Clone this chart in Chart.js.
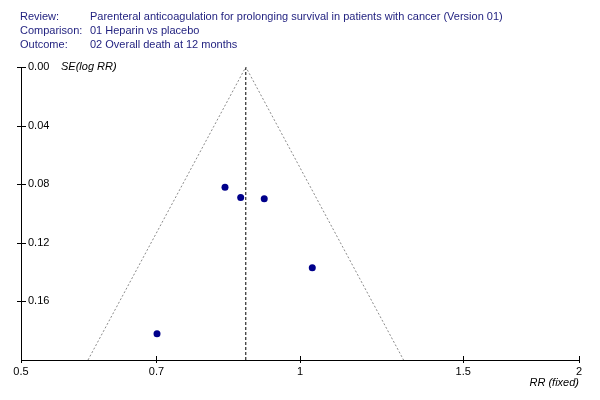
<!DOCTYPE html>
<html>
<head>
<meta charset="utf-8">
<script src="https://cdn.jsdelivr.net/npm/chart.js@4"></script>
<style>
  html, body { margin: 0; padding: 0; background: #fff; }
  #wrap { position: relative; width: 600px; height: 400px; }
  #chart { position: absolute; left: 0; top: 0; }
  .hdr { position: absolute; left: 20px; font: 11px "Liberation Sans", Arial, sans-serif; color: #1e1e7e; white-space: nowrap; }
  .hdr span { position: absolute; left: 70px; }
</style>
</head>
<body>
<div id="wrap">
  <canvas id="chart" width="600" height="400"></canvas>
  <div class="hdr" style="top:10px">Review:<span>Parenteral anticoagulation for prolonging survival in patients with cancer (Version 01)</span></div>
  <div class="hdr" style="top:24px">Comparison:<span>01 Heparin vs placebo</span></div>
  <div class="hdr" style="top:38px">Outcome:<span>02 Overall death at 12 months</span></div>
</div>
<script>
// study estimates
const studyRR = [0.830, 0.863, 0.915, 1.031, 0.701];
const studySE = [0.082, 0.089, 0.090, 0.137, 0.182];
const pooledRR = 0.874;
const seMax = 0.2;
const xTicks = [0.5, 0.7, 1, 1.5, 2];
const yTicks = [0, 0.04, 0.08, 0.12, 0.16];

const points = studyRR.map((rr, i) => ({ x: rr, y: studySE[i] }));
const funnel = [
    { x: pooledRR * Math.exp(-1.96 * seMax), y: seMax },
    { x: pooledRR, y: 0 },
    { x: pooledRR * Math.exp(1.96 * seMax), y: seMax }
];
const pooledLine = [{ x: pooledRR, y: 0 }, { x: pooledRR, y: seMax }];

const FONT = 'Liberation Sans, Arial, sans-serif';

// cross-shaped tick marks and the axis captions
const decorations = {
    id: 'decorations',
    afterDraw(chart) {
        const ctx = chart.ctx;
        const xs = chart.scales.x, ys = chart.scales.y;
        const area = chart.chartArea;
        ctx.save();
        ctx.strokeStyle = '#000';
        ctx.lineWidth = 1;
        ctx.beginPath();
        xTicks.forEach(v => {
            const px = Math.round(xs.getPixelForValue(v)) + 0.5;
            ctx.moveTo(px, area.bottom - 4);
            ctx.lineTo(px, area.bottom + 3);
        });
        yTicks.forEach(v => {
            const py = Math.round(ys.getPixelForValue(v)) + 0.5;
            ctx.moveTo(area.left - 4, py);
            ctx.lineTo(area.left + 5, py);
        });
        ctx.stroke();
        ctx.fillStyle = '#000';
        ctx.font = 'italic 11px ' + FONT;
        ctx.textBaseline = 'middle';
        ctx.textAlign = 'left';
        ctx.fillText('SE(log RR)', 61, ys.getPixelForValue(0));
        ctx.textAlign = 'right';
        ctx.fillText('RR (fixed)', area.right, 383);
        ctx.restore();
    }
};

new Chart(document.getElementById('chart').getContext('2d'), {
    type: 'scatter',
    data: {
        datasets: [
            {
                type: 'line', data: funnel, borderColor: '#8a8a8a', borderWidth: 1,
                borderDash: [2, 2], pointRadius: 0, fill: false, tension: 0
            },
            {
                type: 'line', data: pooledLine, borderColor: '#000', borderWidth: 1,
                borderDash: [3, 2], pointRadius: 0, fill: false
            },
            {
                data: points, backgroundColor: '#00008b', borderColor: '#00008b',
                pointRadius: 3.5, borderWidth: 0
            }
        ]
    },
    options: {
        responsive: false,
        animation: false,
        layout: { padding: { top: 67, right: 21, left: 0, bottom: 0 } },
        plugins: { legend: { display: false }, tooltip: { enabled: false } },
        scales: {
            x: {
                type: 'logarithmic',
                min: 0.5, max: 2,
                afterBuildTicks: s => { s.ticks = xTicks.map(v => ({ value: v })); },
                afterFit: s => { s.height = 40; },
                grid: { display: false, tickLength: 0 },
                border: { display: true, color: '#000', width: 1 },
                ticks: {
                    color: '#000', padding: 5, maxRotation: 0, autoSkip: false,
                    font: { family: FONT, size: 11 },
                    callback: v => String(v)
                }
            },
            y: {
                min: 0, max: seMax, reverse: true,
                afterBuildTicks: s => { s.ticks = yTicks.map(v => ({ value: v })); },
                afterFit: s => { s.width = 21; },
                grid: { display: false, tickLength: 0 },
                border: { display: true, color: '#000', width: 1 },
                ticks: {
                    mirror: true, padding: 7, color: '#000',
                    font: { family: FONT, size: 11 },
                    callback: v => v.toFixed(2)
                }
            }
        }
    },
    plugins: [decorations]
});
</script>
</body>
</html>
